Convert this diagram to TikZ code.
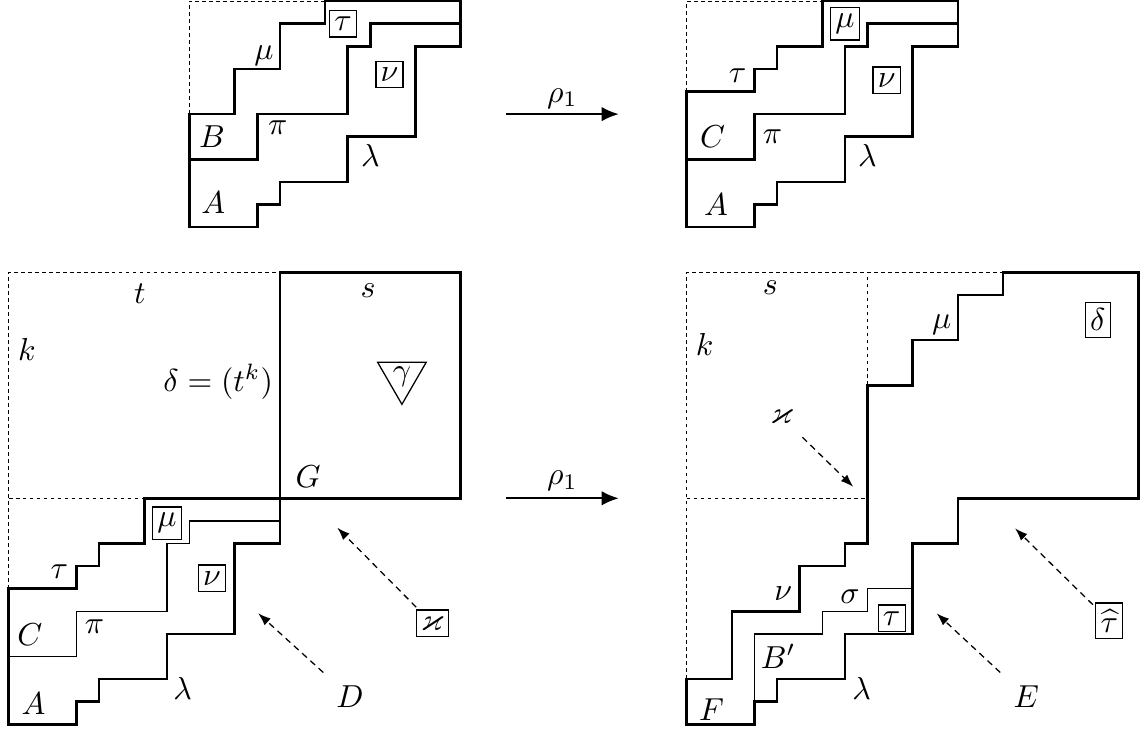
\documentclass[tikz,border=0pt]{standalone}
\usepackage{amsmath,amssymb}
\usepackage{tikz}
\usetikzlibrary{shapes.geometric,arrows.meta}
\tikzset{
  bx/.style={draw, line width=0.4pt, inner xsep=1.5pt, inner ysep=2pt},
  fr/.style={line width=0.8pt},
  th/.style={line width=0.4pt},
  dsh/.style={line width=0.3pt, dash pattern=on 1.2pt off 1pt},
  pt/.style={line width=0.7pt, -{Latex[length=1.9mm,width=1.6mm]}},
  da/.style={line width=0.4pt, dash pattern=on 2pt off 1.5pt, shorten <=1pt, -{Latex[length=1.4mm,width=1mm]}}
}

\begin{document}
\begin{tikzpicture}[x=0.25cm,y=0.25cm]
\useasboundingbox (-0.385,-0.296) rectangle (50.37,32.05);

\begin{scope}[shift={(8,22)}]
\draw[dsh] (0,5) -- (0,10) -- (6,10);
\draw[fr] (0,5) -- (2,5) -- (2,7) -- (4,7) -- (4,9) -- (6,9) -- (6,10) -- (12,10) -- (12,8) -- (10,8) -- (10,4) -- (7,4) -- (7,2) -- (4,2) -- (4,1) -- (3,1) -- (3,0) -- (0,0) -- cycle;
\draw[fr] (0,3) -- (3,3) -- (3,5) -- (7,5) -- (7,8) -- (8,8) -- (8,9) -- (12,9);
\node(tlmu) at (3.3,7.6) {$\mu$};
\node[bx](tltau) at (6.8,9) {$\tau$};
\node[bx](tlnu) at (8.85,6.75) {$\nu$};
\node(tlB) at (1,4) {$B$};
\node(tlpi) at (3.9,4.4) {$\pi$};
\node(tllam) at (8,3.15) {$\lambda$};
\node(tlA) at (1.05,1.1) {$A$};
\end{scope}

\begin{scope}[shift={(30,22)}]
\draw[dsh] (0,6) -- (0,10) -- (6,10);
\draw[fr] (0,6) -- (3,6) -- (3,7) -- (4,7) -- (4,8) -- (6,8) -- (6,10) -- (12,10) -- (12,8) -- (10,8) -- (10,4) -- (7,4) -- (7,2) -- (4,2) -- (4,1) -- (3,1) -- (3,0) -- (0,0) -- cycle;
\draw[fr] (0,3) -- (3,3) -- (3,5) -- (7,5) -- (7,8) -- (8,8) -- (8,9) -- (12,9);
\node[bx](trmu) at (7,9) {$\mu$};
\node(trtau) at (2.25,6.7) {$\tau$};
\node[bx](trnu) at (8.85,6.5) {$\nu$};
\node(trC) at (1.15,4) {$C$};
\node(trpi) at (3.8,4) {$\pi$};
\node(trlam) at (8,3.15) {$\lambda$};
\node(trA) at (1.3,1) {$A$};
\end{scope}

\coordinate (r1a) at (22,27);
\coordinate (r1b) at (27,27);
\draw[pt] (r1a) -- node[above, inner sep=1.5pt](r1t) {$\rho_1$} (r1b);
\coordinate (r2a) at (22,10);
\coordinate (r2b) at (27,10);
\draw[pt] (r2a) -- node[above, inner sep=2pt](r2t) {$\rho_1$} (r2b);

\begin{scope}
\draw[dsh] (0,6) -- (0,20) -- (12,20);
\draw[dsh] (0,10) -- (6,10);
\draw[fr] (12,10) rectangle (20,20);
\draw[fr] (0,6) -- (3,6) -- (3,7) -- (4,7) -- (4,8) -- (6,8) -- (6,10) -- (12,10) -- (12,8) -- (10,8) -- (10,4) -- (7,4) -- (7,2) -- (4,2) -- (4,1) -- (3,1) -- (3,0) -- (0,0) -- cycle;
\draw[th] (0,3) -- (3,3) -- (3,5) -- (7,5) -- (7,8) -- (8,8) -- (8,9) -- (12,9);
\node(blt) at (5.8,19.07) {$t$};
\node(blk) at (0.8,16.6) {$k$};
\node(bldel) at (9.27,15.16) {$\delta=(t^k)$};
\node(bls) at (15.9,19.2) {$s$};
\node[draw, line width=0.4pt, regular polygon, regular polygon sides=3, shape border rotate=180, inner sep=0pt](blgam) at (17.4,15.4) {$\gamma$};
\node(blG) at (13.25,10.95) {$G$};
\node[bx](blmu) at (7,8.9) {$\mu$};
\node(bltau) at (2.24,6.75) {$\tau$};
\node[bx](blnu) at (9,6.46) {$\nu$};
\node(blC) at (0.94,3.95) {$C$};
\node(blpi) at (3.8,4.3) {$\pi$};
\node(bllam) at (7.7,1.6) {$\lambda$};
\node(blA) at (1.1,0.93) {$A$};
\node(blD) at (15.1,1.22) {$D$};
\node[bx](blka) at (18.74,4.47) {$\varkappa$};
\coordinate (bldt) at (11.04,4.91);
\coordinate (blkt) at (14.54,8.7);
\draw[da] (blD) -- (bldt);
\draw[da] (blka) -- (blkt);
\end{scope}

\begin{scope}[shift={(30,0)}]
\draw[dsh] (0,2) -- (0,20) -- (14,20);
\draw[dsh] (0,10) -- (8,10);
\draw[dsh] (8,15) -- (8,20);
\draw[fr] (0,0) -- (0,2) -- (2,2) -- (2,5) -- (5,5) -- (5,7) -- (7,7) -- (7,8) -- (8,8) -- (8,15) -- (10,15) -- (10,17) -- (12,17) -- (12,19) -- (14,19) -- (14,20) -- (20,20) -- (20,10) -- (12,10) -- (12,8) -- (10,8) -- (10,4) -- (7,4) -- (7,2) -- (4,2) -- (4,1) -- (3,1) -- (3,0) -- cycle;
\draw[th] (3,1) -- (3,4) -- (6,4) -- (6,5) -- (8,5) -- (8,6) -- (10,6);
\node(brs) at (3.7,19.3) {$s$};
\node(brk) at (0.8,16.8) {$k$};
\node(brmu) at (11.28,17.67) {$\mu$};
\node[bx](brdel) at (18.19,17.9) {$\delta$};
\node(brka) at (4.2,13.6) {$\varkappa$};
\coordinate (brkt) at (7.37,10.51);
\draw[da] (brka) -- (brkt);
\node(brnu) at (4.27,5.8) {$\nu$};
\node(brsig) at (7.23,5.65) {$\sigma$};
\node[bx](brtau) at (9.07,4.69) {$\tau$};
\node(brB) at (4.05,3) {$B'$};
\node(brlam) at (7.74,1.6) {$\lambda$};
\node(brF) at (1.1,0.63) {$F$};
\node(brE) at (15.03,1.22) {$E$};
\node[bx](brht) at (18.7,4.58) {$\widehat{\tau}$};
\coordinate (bret) at (11.06,4.91);
\coordinate (brht2) at (14.53,8.67);
\draw[da] (brE) -- (bret);
\draw[da] (brht) -- (brht2);
\end{scope}
\end{tikzpicture}
\end{document}
